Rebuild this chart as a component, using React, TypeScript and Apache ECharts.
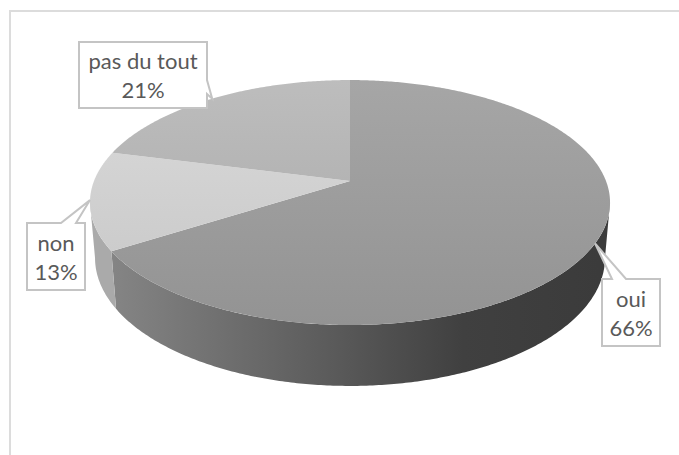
import React, { useEffect, useRef } from "react";
import * as echarts from "echarts";

const categories = ["oui", "non", "pas du tout"];
const shares = [66, 13, 21];

// Top face gradient stops, top to bottom of the disc
const topShades = [
  ["#a6a6a6", "#939393"],
  ["#dadada", "#c6c6c6"],
  ["#bdbdbd", "#a7a7a7"],
];
// Wall gradient stops, left to right along the rim
const wallShades = [
  [
    [0, "#858585"],
    [0.48, "#585858"],
    [0.72, "#404040"],
    [1, "#3b3b3b"],
  ],
  [
    [0, "#aaaaaa"],
    [1, "#a2a2a2"],
  ],
  [
    [0, "#a0a0a0"],
    [1, "#a0a0a0"],
  ],
];
// Callout frames: left, top, right, bottom, and where the tail leaves the frame
const calloutBoxes = [
  { box: [602, 279, 660, 346], tail: "top", from: 612, to: 626 },
  { box: [27, 223, 85, 290], tail: "top", from: 61, to: 76 },
  { box: [79, 42, 207, 108], tail: "right", from: 80, to: 94 },
];

const CX = 350;
const TILT = 0.1757;
const upper = { cy: 181, a: 256, b: 118.7 };
const lower = { cy: 235.5, a: 251, b: 124 };
// The visible outline of each disc turns back where v equals the tilt
const TURN = Math.asin(TILT);

// Perspective projection of a rim point; angle is clockwise from twelve o'clock
function project(disc: { cy: number; a: number; b: number }, angle: number) {
  const u = Math.sin(angle);
  const v = -Math.cos(angle);
  const w = 1 - TILT * v;
  return [CX + (disc.a * u) / w, disc.cy + (disc.b * v) / w];
}

function rim(disc: { cy: number; a: number; b: number }, start: number, end: number) {
  const n = Math.max(2, Math.ceil(Math.abs(end - start) / 0.01));
  const pts: number[][] = [];
  for (let i = 0; i <= n; i++) pts.push(project(disc, start + ((end - start) * i) / n));
  return pts;
}

const total = shares.reduce((s, x) => s + x, 0);

function sliceAngles(index: number) {
  let before = 0;
  for (let i = 0; i < index; i++) before += shares[i];
  return [(before / total) * Math.PI * 2, ((before + shares[index]) / total) * Math.PI * 2];
}

function renderSlice(params: any, api: any) {
  const i = params.dataIndex;
  const [start, end] = sliceAngles(i);
  const children: any[] = [];

  // Wall: only the part of the rim facing the viewer
  const wStart = Math.max(start, Math.PI / 2 + TURN);
  const wEnd = Math.min(end, (Math.PI * 3) / 2 - TURN);
  if (wEnd > wStart) {
    const pts = [...rim(upper, wStart, wEnd), ...rim(lower, wEnd, wStart)];
    children.push({
      type: "polygon",
      shape: { points: pts },
      style: {
        fill: {
          type: "linear",
          x: 110,
          y: 0,
          x2: 600,
          y2: 0,
          global: true,
          colorStops: wallShades[i].map((s) => ({ offset: s[0], color: s[1] })),
        },
      },
    });
  }

  // Top face, running from the apex along the rim
  const face = [[CX, upper.cy], ...rim(upper, start, end)];
  children.push({
    type: "polygon",
    shape: { points: face },
    style: {
      fill: {
        type: "linear",
        x: 0,
        y: 80,
        x2: 0,
        y2: 325,
        global: true,
        colorStops: [
          { offset: 0, color: topShades[i][0] },
          { offset: 1, color: topShades[i][1] },
        ],
      },
    },
  });
  return { type: "group", children };
}

function renderCallout(params: any, api: any) {
  const i = params.dataIndex;
  const [start, end] = sliceAngles(i);
  const tip = project(upper, (start + end) / 2);
  const { box, tail, from, to } = calloutBoxes[i];
  const [l, t, r, b] = box;
  const outline =
    tail === "top"
      ? [[l, t], [from, t], tip, [to, t], [r, t], [r, b], [l, b]]
      : [[l, t], [r, t], [r, from], tip, [r, to], [r, b], [l, b]];
  return {
    type: "group",
    children: [
      {
        type: "polygon",
        shape: { points: outline },
        style: { fill: "#ffffff", stroke: "#c4c4c4", lineWidth: 2 },
      },
      {
        type: "text",
        x: (l + r) / 2,
        y: (t + b) / 2,
        style: {
          text: `${categories[i]}\n${api.value(0)}%`,
          fontFamily: "Lato",
          fontSize: 22,
          lineHeight: 29,
          fill: "#595959",
          align: "center",
          verticalAlign: "middle",
        },
      },
    ],
  };
}

export default function App() {
  const ref = useRef<HTMLDivElement>(null);
  useEffect(() => {
    const chart = echarts.init(ref.current!, undefined, { renderer: "svg" });
    chart.setOption({
      animation: false,
      backgroundColor: "#ffffff",
      graphic: [
        {
          type: "polyline",
          z: -1,
          shape: { points: [[10, 455], [10, 11], [679, 11]] },
          style: { fill: "none", stroke: "#dcdcdc", lineWidth: 2 },
        },
      ],
      series: [
        {
          type: "custom",
          coordinateSystem: "none",
          silent: true,
          clip: false,
          data: shares.map((v) => [v]),
          renderItem: renderSlice,
          z: 1,
        },
        {
          type: "custom",
          coordinateSystem: "none",
          silent: true,
          clip: false,
          data: shares.map((v) => [v]),
          renderItem: renderCallout,
          z: 2,
        },
      ],
    });
    return () => chart.dispose();
  }, []);
  return <div ref={ref} style={{ position: "fixed", left: 0, top: 0, width: 679, height: 455 }} />;
}
